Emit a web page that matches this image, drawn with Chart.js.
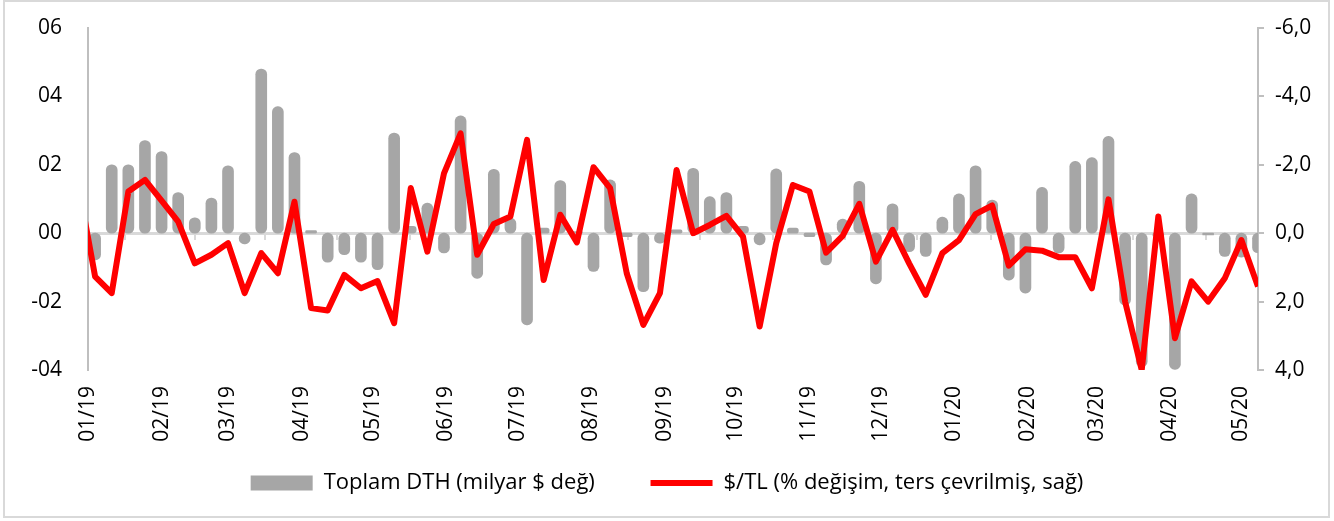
<!DOCTYPE html>
<html>
<head>
<meta charset="utf-8">
<script src="https://cdn.jsdelivr.net/npm/chart.js@4.4.1/dist/chart.umd.min.js"></script>
<style>
  html, body { margin: 0; padding: 0; background: #fff; }
  #wrap { position: relative; width: 1334px; height: 521px; }
  #frame { position: absolute; left: 3px; top: 0; width: 1327px; height: 518px;
           border: 2px solid #d9d9d9; box-sizing: border-box; pointer-events: none; }
</style>
</head>
<body>
<div id="wrap">
  <canvas id="chart" width="1334" height="521"></canvas>
  <div id="frame"></div>
</div>
<script>
// weekly observations, first one (28.12.2018) falls just left of the axis
const firstWeek = '2018-12-28';
const weekCount = 72;

// Toplam DTH, weekly change (bn $)
const dthValues = [
  null, -0.78, 2.0, 2.0, 2.71, 2.39, 1.19, 0.45, 1.03, 1.97,
  -0.31, 4.8, 3.7, 2.36, 0.08, -0.85, -0.63, -0.85, -1.07, 2.93,
  0.2, 0.88, -0.58, 3.43, -1.32, 1.87, 0.44, -2.68, 0.15, 1.54,
  0.05, -1.12, 1.56, -0.1, -1.71, -0.29, 0.1, 1.9, 1.07, 1.19,
  0.2, -0.34, 1.88, 0.15, -0.1, -0.93, 0.41, 1.52, -1.48, 0.86,
  -0.54, -0.68, 0.47, 1.15, 1.97, 0.97, -1.37, -1.75, 1.34, -0.58,
  2.1, 2.21, 2.83, -2.1, -3.9, -0.1, -3.98, 1.15, -0.05, -0.68,
  -0.7, -0.57
];

// $/TL weekly % change (right axis, inverted)
const usdTryValues = [
  -1.4, 1.27, 1.75, -1.22, -1.56, -0.95, -0.34, 0.88, 0.63, 0.29,
  1.75, 0.58, 1.17, -0.92, 2.19, 2.26, 1.22, 1.61, 1.4, 2.63,
  -1.32, 0.54, -1.75, -2.92, 0.63, -0.27, -0.49, -2.73, 1.37, -0.54,
  0.27, -1.93, -1.32, 1.17, 2.68, 1.75, -1.85, 0.0, -0.24, -0.51,
  0.1, 2.73, 0.29, -1.41, -1.22, 0.57, 0.08, -0.86, 0.83, -0.1,
  0.88, 1.8, 0.58, 0.2, -0.56, -0.81, 0.95, 0.47, 0.51, 0.7,
  0.7, 1.61, -0.99, 2.0, 4.0, -0.49, 3.07, 1.41, 2.0, 1.32,
  0.2, 1.56
];

const monthStarts = [
  '2019-01-01', '2019-02-01', '2019-03-01', '2019-04-01', '2019-05-01', '2019-06-01',
  '2019-07-01', '2019-08-01', '2019-09-01', '2019-10-01', '2019-11-01', '2019-12-01',
  '2020-01-01', '2020-02-01', '2020-03-01', '2020-04-01', '2020-05-01'
];
const monthLabels = [
  '01/19', '02/19', '03/19', '04/19', '05/19', '06/19', '07/19', '08/19', '09/19',
  '10/19', '11/19', '12/19', '01/20', '02/20', '03/20', '04/20', '05/20'
];

const DAY = 86400000;
const origin = Date.UTC(2019, 0, 1);
function dayOf(s) {
  const p = s.split('-').map(Number);
  return (Date.UTC(p[0], p[1] - 1, p[2]) - origin) / DAY;
}

const weekDays = [];
for (let i = 0; i < weekCount; i++) weekDays.push(dayOf(firstWeek) + 7 * i);
const monthDays = monthStarts.map(dayOf);
const xMax = weekDays[weekDays.length - 1];

const font = { family: '"Open Sans", sans-serif', size: 21 };
const legendFont = { family: '"Open Sans", sans-serif', size: 22 };
const monthTicks = scale => { scale.ticks = monthDays.map(v => ({ value: v })); };

new Chart(document.getElementById('chart'), {
  type: 'bar',
  data: {
    datasets: [
      {
        type: 'line',
        label: '$/TL (% değişim, ters çevrilmiş, sağ)',
        data: weekDays.map((x, i) => ({ x: x, y: usdTryValues[i] })),
        borderColor: '#ff0000',
        backgroundColor: '#ff0000',
        borderWidth: 6,
        borderJoinStyle: 'round',
        pointRadius: 0,
        tension: 0,
        clip: 0,
        yAxisID: 'y2',
        pointStyle: 'line',
        order: 1
      },
      {
        label: 'Toplam DTH (milyar $ değ)',
        data: weekDays.map((x, i) => ({ x: x, y: dthValues[i] })),
        backgroundColor: '#a6a6a6',
        barThickness: 11,
        borderRadius: 6,
        borderSkipped: false,
        yAxisID: 'y',
        pointStyle: 'rect',
        order: 2
      }
    ]
  },
  options: {
    responsive: false,
    animation: false,
    layout: { padding: { top: 28, left: 10, right: 10, bottom: 17 } },
    plugins: {
      tooltip: { enabled: false },
      legend: {
        position: 'bottom',
        reverse: true,
        labels: {
          usePointStyle: true,
          pointStyleWidth: 62,
          boxHeight: 15,
          padding: 10,
          color: '#000',
          font: legendFont,
          generateLabels: chart => {
            const items = Chart.defaults.plugins.legend.labels.generateLabels(chart);
            // room between the two legend entries
            items.forEach(it => { if (it.datasetIndex === 1) it.text += '\u00a0'.repeat(8); });
            return items;
          }
        }
      }
    },
    scales: {
      x: {
        type: 'linear',
        min: 0,
        max: xMax,
        offset: false,
        position: 'bottom',
        grid: { display: false, drawTicks: false },
        border: { display: false },
        afterBuildTicks: monthTicks,
        afterFit: scale => { scale.height = 92; },
        ticks: {
          autoSkip: false,
          maxRotation: 90,
          minRotation: 90,
          padding: 16,
          color: '#000',
          font: font,
          callback: (v, i) => monthLabels[i]
        }
      },
      x0: {
        type: 'linear',
        min: 0,
        max: xMax,
        offset: false,
        position: { y: 0 },
        grid: { drawOnChartArea: false, tickLength: 5, color: '#d9d9d9', lineWidth: 2 },
        border: { color: '#d9d9d9', width: 3 },
        afterBuildTicks: monthTicks,
        ticks: { display: false }
      },
      y: {
        type: 'linear',
        position: 'left',
        min: -4,
        max: 6,
        // hidden tick marks only push the labels away from the axis line
        grid: { display: false, drawTicks: true, tickLength: 23 },
        border: { color: '#bfbfbf', width: 2 },
        afterFit: scale => { scale.width = 78; },
        ticks: {
          stepSize: 2,
          padding: 3,
          color: '#000',
          font: font,
          callback: v => (v < 0 ? '-' : '') + String(Math.abs(v)).padStart(2, '0')
        }
      },
      y2: {
        type: 'linear',
        position: 'right',
        reverse: true,
        min: -6,
        max: 4,
        grid: { drawOnChartArea: false, drawTicks: true, tickLength: 6, color: '#bfbfbf', lineWidth: 2 },
        border: { color: '#bfbfbf', width: 2 },
        afterFit: scale => { scale.width = 66; },
        ticks: {
          stepSize: 2,
          padding: 11,
          color: '#000',
          font: font,
          callback: v => v.toFixed(1).replace('.', ',')
        }
      }
    }
  }
});
</script>
</body>
</html>
